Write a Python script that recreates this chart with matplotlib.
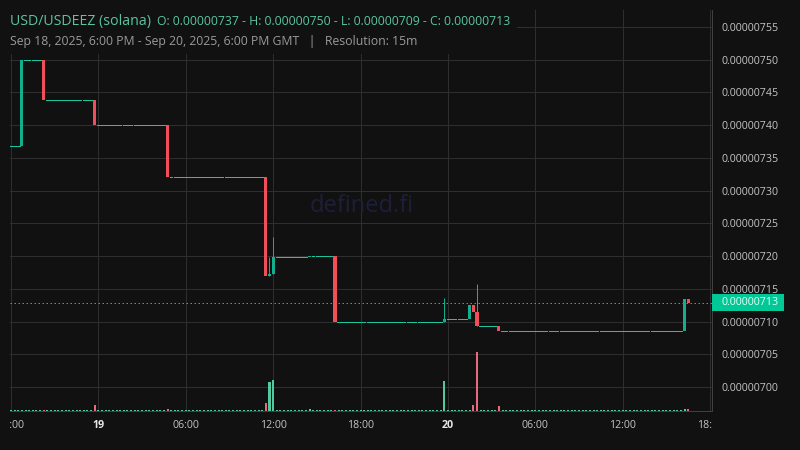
import matplotlib
matplotlib.use("Agg")
import matplotlib.pyplot as plt
from matplotlib.patches import Rectangle
from matplotlib.transforms import blended_transform_factory, Bbox, TransformedBbox

plt.rcParams['font.family'] = ['Open Sans', 'DejaVu Sans']

# ---------------- data (15-minute candles from Sep 18 18:00 GMT) ----------------
n_slots = 187                    # candles drawn (last one ~Sep 20 16:30)
start_price = 0.000007368        # price held before the first trade
trade_idx   = [3, 9, 23, 43, 70, 71, 72, 82, 89, 119, 126, 127, 128, 134, 185, 186]
trade_open  = [7.368, 7.500, 7.438, 7.401, 7.321, 7.169, 7.173, 7.198, 7.200, 7.099, 7.104, 7.125, 7.115, 7.093, 7.086, 7.134]
trade_high  = [7.500, 7.500, 7.438, 7.401, 7.321, 7.199, 7.229, 7.200, 7.200, 7.136, 7.125, 7.125, 7.157, 7.093, 7.134, 7.134]
trade_low   = [7.368, 7.438, 7.401, 7.321, 7.169, 7.169, 7.173, 7.198, 7.099, 7.099, 7.104, 7.115, 7.093, 7.086, 7.086, 7.129]
trade_close = [7.500, 7.438, 7.401, 7.321, 7.169, 7.173, 7.198, 7.200, 7.099, 7.104, 7.125, 7.115, 7.093, 7.086, 7.134, 7.129]
trade_vol   = [15, 8, 60, 25, 80, 290, 310, 25, 8, 300, 8, 60, 590, 50, 20, 20]
idle_vol    = 10                 # minimal volume of candles without price change

price_ticks = [7.00, 7.05, 7.10, 7.15, 7.20, 7.25, 7.30, 7.35, 7.40, 7.45, 7.50, 7.55]
time_ticks  = [0, 24, 48, 72, 96, 120, 144, 168, 192]
time_labels = ['18:00', '19', '06:00', '12:00', '18:00', '20', '06:00', '12:00', '18:00']
day_labels  = ['19', '20']

title_pair = 'USD/USDEEZ (solana)'
range_text = 'Sep 18, 2025, 6:00 PM - Sep 20, 2025, 6:00 PM GMT   |   Resolution: 15m'
watermark  = 'defined.fi'

E = 1e-6
trade_open  = [v * E for v in trade_open]
trade_high  = [v * E for v in trade_high]
trade_low   = [v * E for v in trade_low]
trade_close = [v * E for v in trade_close]
price_ticks = [v * E for v in price_ticks]

# build the candle list: between trades the price stays at the last close
O, H, L, C, V = [], [], [], [], []
last = start_price
lookup = {t: k for k, t in enumerate(trade_idx)}
for i in range(n_slots):
    if i in lookup:
        k = lookup[i]
        O.append(trade_open[k]); H.append(trade_high[k]); L.append(trade_low[k]); C.append(trade_close[k])
        V.append(trade_vol[k]); last = trade_close[k]
    else:
        O.append(last); H.append(last); L.append(last); C.append(last); V.append(idle_vol)

o_all = O[0]; h_all = max(H); l_all = min(L); c_all = C[-1]

# ---------------- styling ----------------
BG = '#111111'
GRID = '#2e2e2e'
UP = '#14ae8e'
FLAT = '#1cc4a0'
DOWN = '#f04e58'
VUP = '#52c9a2'
VDOWN = '#e8697b'
TEAL_TXT = '#5ac4a2'
PXW = 0.72   # one pixel in points

fig = plt.figure(figsize=(8, 4.5), dpi=100, facecolor=BG)
rect = [10 / 800, 39 / 450, 702 / 800, 401 / 450]
axv = fig.add_axes(rect)
ax = fig.add_axes(rect, sharex=axv)
axv.set_facecolor(BG)
ax.patch.set_alpha(0)

ax.set_xlim(-0.27, 192.53)
ax.set_ylim(6.9633e-6, 7.5760e-6)
axv.set_ylim(0, max(V) / 0.147)

# grid on the back axes
ax.set_xticks(time_ticks)
axv.grid(axis='x', color=GRID, lw=PXW)
axv.tick_params(axis='both', length=0, labelbottom=False, labelleft=False)
axv.set_yticks([])
hl = blended_transform_factory(axv.transAxes, ax.transData)
for p in price_ticks:
    axv.plot([0, 1], [p, p], color=GRID, lw=PXW, transform=hl, zorder=0.5)
for s in axv.spines.values():
    s.set_visible(False)

# volume bars
idx = list(range(n_slots))
vcols = [VDOWN if C[i] < O[i] else VUP for i in idx]
axv.bar(idx, V, width=0.55, color=vcols, linewidth=0, zorder=2)

# candles
px = (7.5760e-6 - 6.9633e-6) / 401.0
for i in idx:
    col = DOWN if C[i] < O[i] else UP
    if H[i] == L[i]:
        ax.hlines(C[i], i - 0.35, i + 0.35, colors=FLAT, lw=PXW, antialiased=False, zorder=3)
        continue
    if H[i] > max(O[i], C[i]) or L[i] < min(O[i], C[i]):
        ax.vlines(i, L[i], H[i], colors=col, lw=PXW, zorder=3)
    lo = min(O[i], C[i]); hgt = max(abs(C[i] - O[i]), px)
    ax.bar(i, hgt, bottom=lo, width=0.85, color=col, linewidth=0, zorder=4)

# last price line and label
ax.axhline(c_all, color='#1fb596', lw=PXW, ls=(0, (1.5, 2.5)), zorder=2.5)
bt = blended_transform_factory(ax.transAxes, ax.transData)
ax.add_patch(Rectangle((1.0, c_all - 8.5 * px), 72 / 702, 17 * px, transform=bt,
                       facecolor='#00c896', edgecolor='none', clip_on=False, zorder=6))
ax.text(1.0 + 10 / 702, c_all, f'{c_all:.8f}', transform=bt, ha='left', va='center',
        fontsize=7.7, color='#eafff7', clip_on=False, zorder=7)

# axes, ticks
for side in ['left', 'top']:
    ax.spines[side].set_visible(False)
for side in ['right', 'bottom']:
    ax.spines[side].set_color('#404040')
    ax.spines[side].set_linewidth(PXW)
ax.yaxis.tick_right()
ax.set_yticks(price_ticks)
ax.set_yticklabels([f'{p:.8f}' for p in price_ticks])
ax.tick_params(axis='y', length=0, pad=7.2, labelsize=7.7, labelcolor='#c4c4c4')
ax.set_xticklabels(time_labels)
ax.tick_params(axis='x', length=0, pad=6.5, labelsize=7.7, labelcolor='#c4c4c4')
clipbox = TransformedBbox(Bbox([[10 / 800, 0], [712 / 800, 1]]), fig.transFigure)
for t in ax.xaxis.get_major_ticks():
    t.label1.set_clip_box(clipbox)
    t.label1.set_clip_on(True)
    if t.label1.get_text() in day_labels:
        t.label1.set_fontweight('bold')
        t.label1.set_color('#e8e8e8')

# watermark
ax.text(0.501, 0.511, watermark, transform=ax.transAxes, ha='center', va='center',
        fontsize=17, color='#1e1e3b', zorder=1)

# legend background boxes (cover grid under header)
fig.add_artist(Rectangle((10 / 800, 1 - 36 / 450), 507 / 800, 26 / 450, transform=fig.transFigure,
                         facecolor=BG, edgecolor='none', zorder=1))
fig.add_artist(Rectangle((10 / 800, 1 - 54 / 450), 450 / 800, 18 / 450, transform=fig.transFigure,
                         facecolor=BG, edgecolor='none', zorder=1))

fig.text(10 / 800, 1 - 25 / 450, title_pair, fontsize=10.2, color=TEAL_TXT, va='baseline', zorder=3)
fig.text(157 / 800, 1 - 25 / 450,
         f'O: {o_all:.8f} - H: {h_all:.8f} - L: {l_all:.8f} - C: {c_all:.8f}',
         fontsize=8.8, color=TEAL_TXT, va='baseline', zorder=3)
fig.text(10 / 800, 1 - 45 / 450, range_text, fontsize=8.8, color='#9a9a9a', va='baseline', zorder=3)

fig.savefig('out.png', dpi=100, facecolor=BG)
